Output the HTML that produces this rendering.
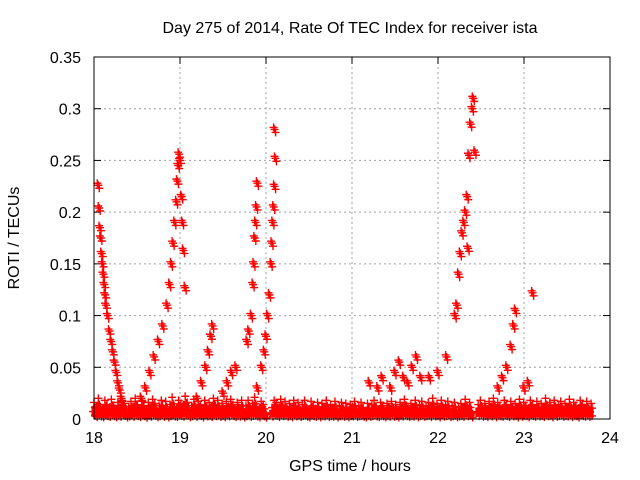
<!DOCTYPE html>
<html><head><meta charset="utf-8">
<style>
body{margin:0;background:#fff;}
svg{display:block;font-family:"Liberation Sans",sans-serif;}
</style></head>
<body>
<svg id="chart" width="640" height="480" viewBox="0 0 640 480">
<text x="350" y="33" font-size="16" text-anchor="middle">Day 275 of 2014, Rate Of TEC Index for receiver ista</text>
<text x="350" y="471" font-size="16" text-anchor="middle">GPS time / hours</text>
<text x="19" y="238" font-size="16" text-anchor="middle" transform="rotate(-90 19 238)">ROTI / TECUs</text>
<g id="grid"></g>
<g id="axes"></g>
<g id="marks"></g>
<rect x="94" y="57" width="516" height="362" fill="none" stroke="#000" stroke-width="1"/>
</svg>
<script>
const xTicks=[18,19,20,21,22,23,24];
const yTicks=[0,0.05,0.1,0.15,0.2,0.25,0.3,0.35];
const yTickLabels=["0","0.05","0.1","0.15","0.2","0.25","0.3","0.35"];
const trackX=[18.05,18.06,18.07,18.08,18.09,18.1,18.11,18.12,18.13,18.14,18.16,18.18,18.2,18.22,18.24,18.26,18.28,18.3,18.32,
18.55,18.6,18.65,18.7,18.75,18.8,18.85,18.88,18.9,18.92,18.94,18.96,18.97,18.98,18.99,19.0,19.02,19.03,19.04,19.06,
19.2,19.25,19.3,19.33,19.36,19.38,19.5,19.55,19.6,19.65,
19.78,19.8,19.83,19.85,19.86,19.87,19.88,19.89,19.9,
19.9,19.95,19.98,20.0,20.02,20.04,20.06,20.07,20.08,20.09,20.1,20.11,20.1,
21.2,21.3,21.35,21.45,21.5,21.55,21.6,21.65,21.7,21.75,21.8,21.9,22.0,22.1,
22.2,22.22,22.24,22.26,22.28,22.3,22.32,22.34,22.36,22.38,22.4,22.41,22.43,22.35,
22.7,22.75,22.8,22.85,22.88,22.9,23.0,23.05,23.1];
const trackY=[0.226,0.204,0.185,0.175,0.16,0.15,0.14,0.13,0.12,0.11,0.1,0.085,0.075,0.065,0.055,0.045,0.035,0.028,0.02,
0.02,0.03,0.045,0.06,0.075,0.09,0.11,0.13,0.15,0.17,0.19,0.21,0.23,0.245,0.256,0.25,0.215,0.19,0.163,0.127,
0.02,0.035,0.05,0.065,0.08,0.09,0.025,0.035,0.045,0.05,
0.075,0.085,0.1,0.13,0.15,0.175,0.19,0.205,0.228,
0.03,0.05,0.065,0.08,0.1,0.12,0.15,0.17,0.19,0.205,0.225,0.252,0.28,
0.035,0.03,0.04,0.03,0.045,0.055,0.04,0.035,0.05,0.06,0.04,0.04,0.045,0.06,
0.1,0.11,0.14,0.16,0.18,0.19,0.2,0.215,0.255,0.285,0.3,0.31,0.258,0.165,
0.03,0.04,0.05,0.07,0.09,0.105,0.03,0.035,0.122];
const bandStart=18.0, bandEnd=23.78;
const bandY=[16,9,20,12,8,18,14,10,19,13,8,16,11,18,15,7,12,17,10,20,14,9,18,13,6,16,11,19,15,8,
13,18,10,17,7,14,21,12,9,18,15,11,22,16,8,13,19,10,17,14,
7,18,12,16,9,20,13,18,10,15,8,17,12,19,14,9,16,11,18,7,
13,18,10,15,21,12,8,17,14,6,0,0,11,18,16,9,19,13,17,10,
15,8,18,12,16,9,14,18,11,7,17,13,10,16,8,15,12,18,9,14,
11,17,7,13,16,10,15,8,14,12,17,9,13,16,11,7,15,10,14,18,
12,9,16,13,8,15,11,17,10,14,7,16,12,19,13,9,15,11,18,8,
14,17,10,13,16,9,20,12,15,7,18,11,14,17,9,13,16,8,12,15,
10,19,13,16,7,0,0,14,18,11,15,9,17,12,20,8,16,13,10,18,
14,9,17,12,15,7,19,11,16,13,8,18,14,10,17,12,15,9,20,13,
16,8,18,11,14,17,10,15,12,19,9,16,13,7,18,14,11,17,10,15];
const X=v=>94+(v-18)*86;
const Y=v=>419-v*(362/0.35);
const ns="http://www.w3.org/2000/svg";
const grid=document.getElementById('grid'),axes=document.getElementById('axes'),marks=document.getElementById('marks');
function mk(t,a,p){const e=document.createElementNS(ns,t);for(const k in a)e.setAttribute(k,a[k]);p.appendChild(e);return e;}
xTicks.forEach((t,i)=>{const x=X(t);
 if(i>0&&i<xTicks.length-1){const g=mk('line',{x1:x,y1:57,x2:x,y2:419,stroke:'#a0a0a0','stroke-dasharray':'2,3'},grid);
 
 }
 mk('line',{x1:x,y1:419,x2:x,y2:412,stroke:'#000'},axes);mk('line',{x1:x,y1:57,x2:x,y2:64,stroke:'#000'},axes);
 const l=mk('text',{x:x,y:443,'font-size':16,'text-anchor':'middle'},axes);l.textContent=t;
 
 });
yTicks.forEach((t,i)=>{const y=Y(t);
 if(i>0&&i<yTicks.length-1){const g=mk('line',{x1:94,y1:y,x2:610,y2:y,stroke:'#a0a0a0','stroke-dasharray':'2,3'},grid);
 
 }
 mk('line',{x1:94,y1:y,x2:101,y2:y,stroke:'#000'},axes);mk('line',{x1:610,y1:y,x2:603,y2:y,stroke:'#000'},axes);
 const l=mk('text',{x:81,y:y+6,'font-size':16,'text-anchor':'end'},axes);l.textContent=yTickLabels[i];
 
 });
let d='',fill='';
function plus(x,y){d+=`M${x-4} ${y}h8M${x} ${y-4}v8`;}
const step=(bandEnd-bandStart)/(bandY.length-1);
bandY.forEach((v,i)=>{if(v===0)return;const x=X(bandStart+i*step),y=Y(v/1000);
 plus(x,y);plus(x+1,Y(v*0.7/1000));plus(x-1,Y(v*0.45/1000));plus(x+1,Y(v*0.2/1000));
 fill+=`M${x} ${Y(0.002)}V${Y(v*0.8/1000)}`;});
trackX.forEach((t,i)=>{plus(X(t),Y(trackY[i]));plus(X(t)+1,Y(trackY[i])+3);plus(X(t)-1,Y(trackY[i])-2);});
const f=mk('path',{d:fill,stroke:'#ff0000','stroke-width':5,fill:'none'},marks);


const p=mk('path',{d:d,stroke:'#ff0000','stroke-width':1.4,fill:'none'},marks);


</script>
</body></html>
